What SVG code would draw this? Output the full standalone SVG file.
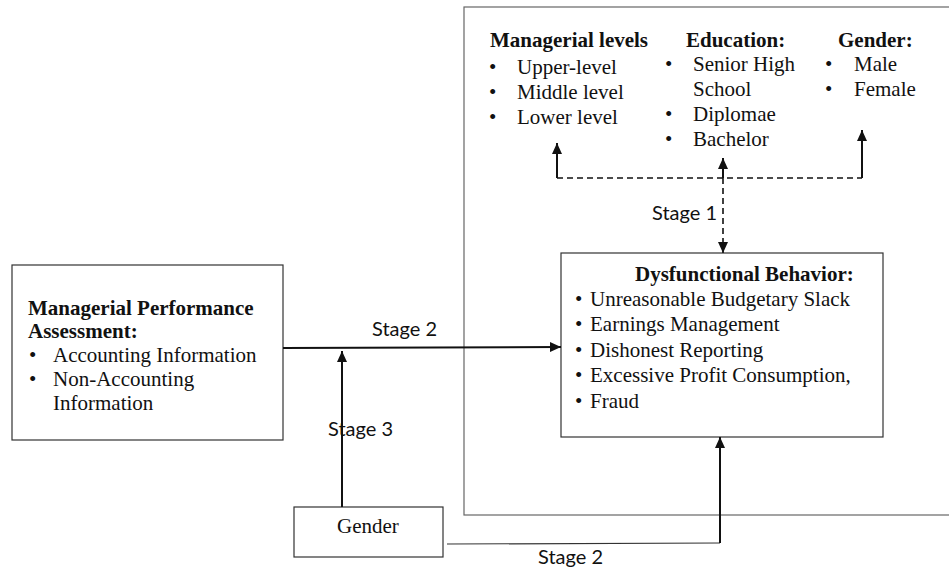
<svg xmlns="http://www.w3.org/2000/svg" width="949" height="570" viewBox="0 0 949 570">
<style>
.t{font-family:"Liberation Serif","Times New Roman",serif;font-size:21px;fill:#111}
.b{font-weight:bold}
.s{font-family:Lato,"Liberation Sans",sans-serif;font-size:20px;fill:#111}
.box{fill:#fff;stroke:#333;stroke-width:1.2}
.outer{fill:none;stroke:#666;stroke-width:1.2}
.c{fill:none;stroke:#111;stroke-width:2}
.thin{fill:none;stroke:#333;stroke-width:1.2}
.d{fill:none;stroke:#111;stroke-width:1.6;stroke-dasharray:6 4}
</style>
<defs>
<marker id="ah" markerUnits="userSpaceOnUse" markerWidth="12" markerHeight="10" refX="11" refY="5" orient="auto">
<path d="M0,0 L11,5 L0,10 z" fill="#111"/>
</marker>
</defs>
<rect width="949" height="570" fill="#fff"/>
<g id="moderators">
<rect class="outer" x="464" y="7" width="500" height="508"/>
<text class="t b" x="490" y="47">Managerial levels</text>
<text class="t" x="489" y="74">•</text><text class="t" x="517" y="74">Upper-level</text>
<text class="t" x="489" y="99">•</text><text class="t" x="517" y="99">Middle level</text>
<text class="t" x="489" y="124">•</text><text class="t" x="517" y="124">Lower level</text>
<text class="t b" x="686" y="47">Education:</text>
<text class="t" x="665" y="71">•</text><text class="t" x="693" y="71">Senior High</text>
<text class="t" x="693" y="96">School</text>
<text class="t" x="665" y="121">•</text><text class="t" x="693" y="121">Diplomae</text>
<text class="t" x="665" y="146">•</text><text class="t" x="693" y="146">Bachelor</text>
<text class="t b" x="838" y="47">Gender:</text>
<text class="t" x="825" y="71">•</text><text class="t" x="854" y="71">Male</text>
<text class="t" x="825" y="96">•</text><text class="t" x="854" y="96">Female</text>
</g>
<g id="assessment">
<rect class="box" x="12" y="265" width="271" height="175"/>
<text class="t b" x="28" y="315">Managerial Performance</text>
<text class="t b" x="28" y="338">Assessment:</text>
<text class="t" x="29" y="362">•</text><text class="t" x="53" y="362">Accounting Information</text>
<text class="t" x="29" y="386">•</text><text class="t" x="53" y="386">Non-Accounting</text>
<text class="t" x="53" y="410">Information</text>
</g>
<g id="dysfunctional">
<rect class="box" x="561" y="253" width="322" height="184"/>
<text class="t b" x="635" y="281">Dysfunctional Behavior:</text>
<text class="t" x="575" y="306">•</text><text class="t" x="590" y="306">Unreasonable Budgetary Slack</text>
<text class="t" x="575" y="331">•</text><text class="t" x="590" y="331">Earnings Management</text>
<text class="t" x="575" y="357">•</text><text class="t" x="590" y="357">Dishonest Reporting</text>
<text class="t" x="575" y="382">•</text><text class="t" x="590" y="382">Excessive Profit Consumption,</text>
<text class="t" x="575" y="408">•</text><text class="t" x="590" y="408">Fraud</text>
</g>
<g id="gender">
<rect class="box" x="294" y="507" width="149" height="50"/>
<text class="t" x="337" y="533">Gender</text>
</g>
<g id="connectors">
<path class="d" d="M557,178 H862"/>
<path class="c" d="M557,178 V143" marker-end="url(#ah)"/>
<path class="c" d="M723,178 V158" marker-end="url(#ah)"/>
<path class="c" d="M862,178 V130" marker-end="url(#ah)"/>
<path class="d" d="M723,178 V253" marker-end="url(#ah)"/>
<path class="c" d="M283,348 L561,347" marker-end="url(#ah)"/>
<path class="c" d="M342,507 V351" marker-end="url(#ah)"/>
<path class="thin" d="M447,544 L720,543"/>
<path class="c" d="M720,543 V437" marker-end="url(#ah)"/>
<text class="s" x="652" y="220">Stage 1</text>
<text class="s" x="372" y="336">Stage 2</text>
<text class="s" x="328" y="436">Stage 3</text>
<text class="s" x="538" y="564">Stage 2</text>
</g>
</svg>
